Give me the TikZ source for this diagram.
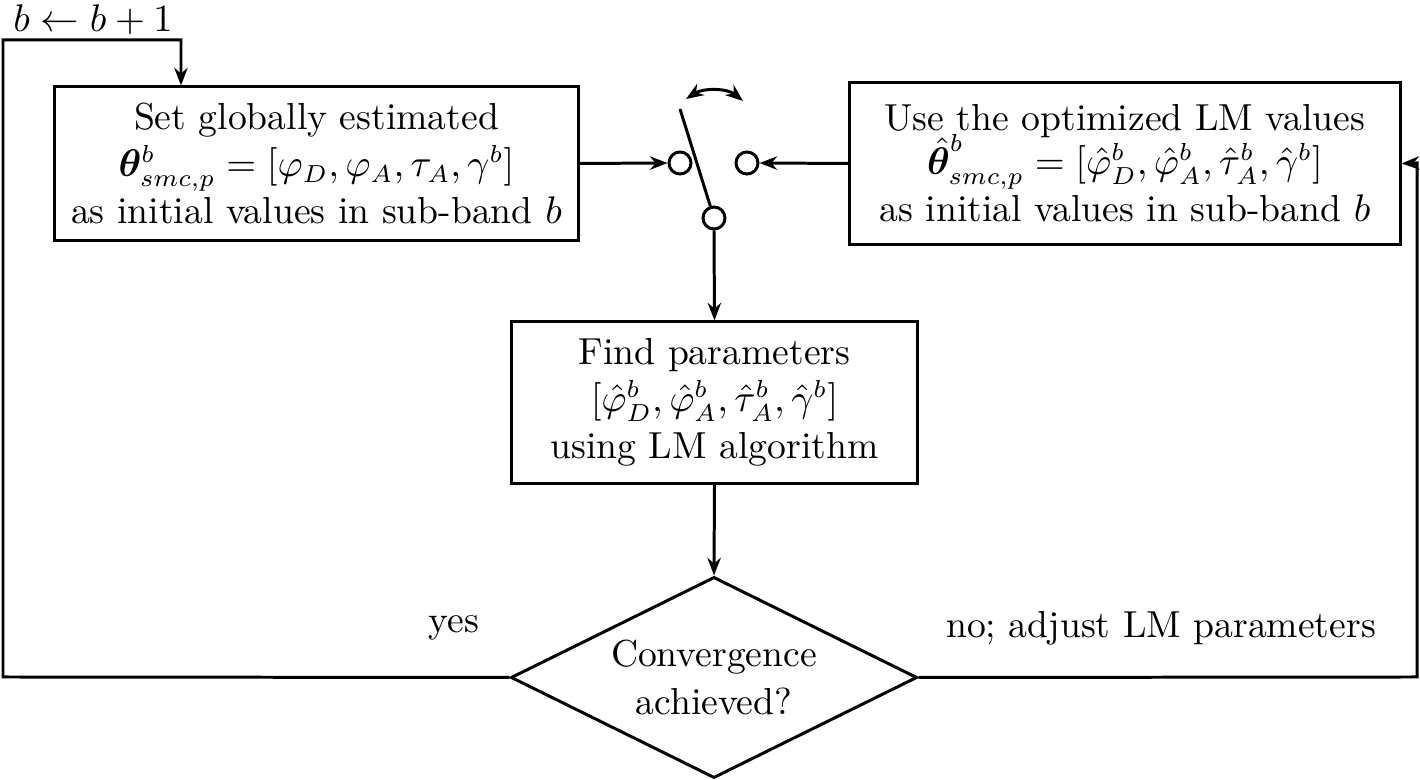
\documentclass[tikz,border=0pt]{standalone}
\usepackage{amsmath}
\usepackage{bm}
\usetikzlibrary{shapes.geometric,arrows.meta,calc}
\begin{document}
\begin{tikzpicture}[x=0.01cm,y=-0.01cm,
  line width=0.85pt,
  >={Stealth[length=5pt,width=3.8pt]},
  every node/.style={font=\fontsize{10.7}{13.4}\selectfont},
  box/.style={draw,rectangle,align=center,inner sep=0pt},
  contact/.style={draw,circle,minimum size=0.22cm,inner sep=0pt},
  decision/.style={draw,diamond,aspect=2,align=center,inner sep=0pt,minimum width=4.06cm,minimum height=2.01cm},
  lbl/.style={inner sep=0pt}
]
\useasboundingbox (0,0) rectangle (1420,780);

\node[box,minimum width=5.23cm,minimum height=1.53cm] (setg) at (316.5,163.5)
  {Set globally estimated\\
   $\bm{\theta}^{b}_{smc,p}=[\varphi_D,\varphi_A,\tau_A,\gamma^{b}]$\\
   as initial values in sub-band $b$};

\node[box,minimum width=5.50cm,minimum height=1.61cm] (useo) at (1125,163.5)
  {Use the optimized LM values\\[-2pt]
   ${\hat{\bm{\theta}}}^{\raisebox{2.6pt}{$\scriptstyle b$}}_{smc,p}=[\hat{\varphi}^b_D,\hat{\varphi}^b_A,\hat{\tau}^b_A,\hat{\gamma}^b]$\\
   as initial values in sub-band $b$};

\node[contact] (cl) at (680,163) {};
\node[contact] (cr) at (747,163) {};
\node[contact] (cb) at (714,218) {};
\coordinate (levtop) at (680,109);
\coordinate (arcl) at (686,99);
\coordinate (arcr) at (743,101);

\node[box,minimum width=4.05cm,minimum height=1.61cm] (find) at (714.5,402.5)
  {Find parameters\\
   $[\hat{\varphi}^b_D,\hat{\varphi}^b_A,\hat{\tau}^b_A,\hat{\gamma}^b]$\\
   using LM algorithm};

\node[decision] (conv) at (714,677.5) {Convergence\\achieved?};

\coordinate (tl) at (3,40);
\coordinate (bl) at (3,677);
\coordinate (tr) at (1417,163);
\coordinate (br) at (1417,677);
\coordinate (topin) at (181,40);

% switch
\draw (levtop) -- (cb);
\draw[<->] (arcl) .. controls (703,88) and (727,88) .. (arcr);

% connectors
\draw[->] (setg.east) -- (cl.west);
\draw[->] (useo.west) -- (cr.east);
\draw[->] (cb.south) -- (find.north);
\draw[->] (find.south) -- (conv.north);
\draw[->] (conv.west) -- (bl) -- (tl) -- (topin) -- (topin |- setg.north);
\draw[->] (conv.east) -- (br) -- (tr) -- (useo.east);

% labels
\node[lbl,anchor=west] (inc) at (12,20) {$b\leftarrow b+1$};
\node[lbl] (yes) at (454,628) {yes};
\node[lbl] (no) at (1161,628) {no; adjust LM parameters};
\end{tikzpicture}
\end{document}
